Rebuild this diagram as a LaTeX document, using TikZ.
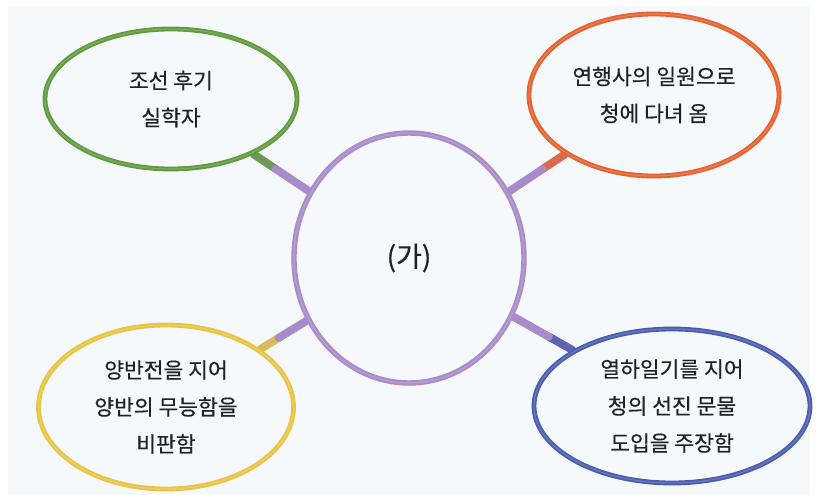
\documentclass[tikz,border=0pt]{standalone}
\usepackage{fontspec}
\setmainfont{Noto Sans CJK KR}[FakeBold=0.4]
\usetikzlibrary{shapes.geometric, backgrounds}
\definecolor{panel}{HTML}{F6F9FC}
\definecolor{ink}{HTML}{222222}
\definecolor{ringPurple}{HTML}{A98BC9}
\definecolor{ringGreen}{HTML}{5F9B3D}
\definecolor{ringOrange}{HTML}{E5622E}
\definecolor{ringYellow}{HTML}{E8C444}
\definecolor{ringBlue}{HTML}{4A5CAE}

\begin{document}
\begin{tikzpicture}[x=1pt, y=-1pt,
  bubble/.style={ellipse, draw=#1, line width=4.8pt, inner sep=0pt, align=center,
    text=ink, font=\fontsize{21.5}{37}\selectfont,
    postaction={draw=#1!65!white, draw opacity=0.6, line width=1pt}},
  neck/.style={draw=#1, line width=8pt, line cap=round}]
  \useasboundingbox (0,0) rectangle (827,495);
  % center ring
  \node[bubble=ringPurple, line width=5.4pt, minimum width=230pt, minimum height=250pt,
    font=\fontsize{28}{30}\selectfont] (ga) at (409,258) {(가)};
  % four bubbles
  \node[bubble=ringGreen, minimum width=252pt, minimum height=140pt] (silhak) at (171,99)
    {조선 후기\\실학자};
  \node[bubble=ringOrange, minimum width=250pt, minimum height=162pt] (yeonhaeng) at (654,95)
    {연행사의 일원으로\\청에 다녀 옴};
  \node[bubble=ringYellow, minimum width=255pt, minimum height=164pt] (yangban) at (166,407)
    {양반전을 지어\\양반의 무능함을\\비판함};
  \node[bubble=ringBlue, minimum width=276pt, minimum height=154pt] (yeolha) at (672,406)
    {열하일기를 지어\\청의 선진 문물\\도입을 주장함};
  \begin{scope}[on background layer]
    \fill[panel] (8,6) rectangle (810,495);
    \foreach \b/\c in {silhak/ringGreen, yeonhaeng/ringOrange, yangban/ringYellow, yeolha/ringBlue}{
      \path (\b) -- (ga) coordinate[pos=0.4] (\b-mid);
      \draw[neck=\c!80!ringPurple] (\b) -- (\b-mid);
      \draw[neck=ringPurple] (\b-mid) -- (ga);
    }
  \end{scope}
\end{tikzpicture}
\end{document}
